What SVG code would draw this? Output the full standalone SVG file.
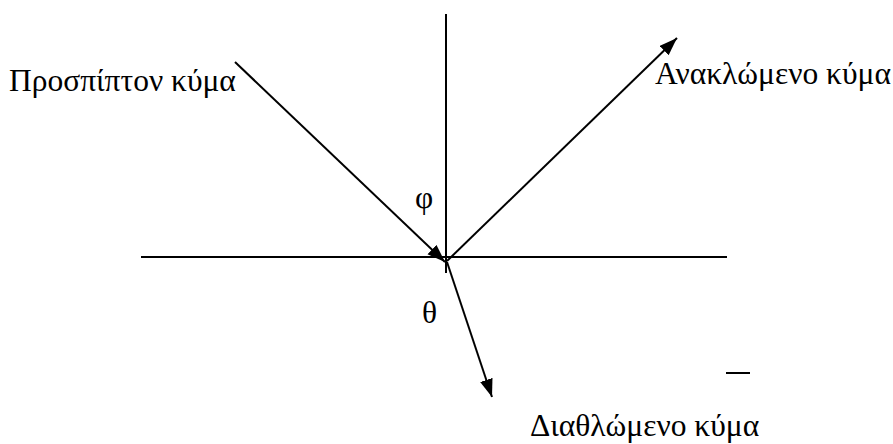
<svg xmlns="http://www.w3.org/2000/svg" width="893" height="444" viewBox="0 0 893 444">
<style>
.ln{stroke:#000;stroke-width:2;fill:none}
.ar{stroke:#000;stroke-width:2;fill:none;marker-end:url(#ah)}
.t{font-family:"Liberation Serif","Times New Roman",serif;font-size:31.5px;fill:#000}
</style>
<defs>
<marker id="ah" markerUnits="userSpaceOnUse" markerWidth="20" markerHeight="14" refX="18" refY="6.5" orient="auto">
<path d="M0,0 L18,6.5 L0,13 z" fill="#000"/>
</marker>
</defs>
<rect width="893" height="444" fill="#fff"/>
<g id="axes">
<line class="ln" x1="446" y1="14" x2="446" y2="273"/>
<line class="ln" x1="141" y1="257" x2="727" y2="257"/>
</g>
<g id="connectors">
<line class="ar" x1="235" y1="62" x2="445" y2="262"/>
<line class="ar" x1="447" y1="261" x2="677" y2="38"/>
<line class="ar" x1="447" y1="262" x2="492" y2="397"/>
</g>
<g id="incident"><text class="t" x="9" y="91">Προσπίπτον κύμα</text></g>
<g id="reflected"><text class="t" x="655" y="84">Ανακλώμενο κύμα</text></g>
<g id="refracted"><text class="t" x="530" y="436">Διαθλώμενο κύμα</text></g>
<g id="phi"><text class="t" x="415" y="208">φ</text></g>
<g id="theta"><text class="t" x="422" y="323">θ</text></g>
<g id="dash"><line class="ln" x1="726" y1="373" x2="750" y2="373"/></g>
</svg>
